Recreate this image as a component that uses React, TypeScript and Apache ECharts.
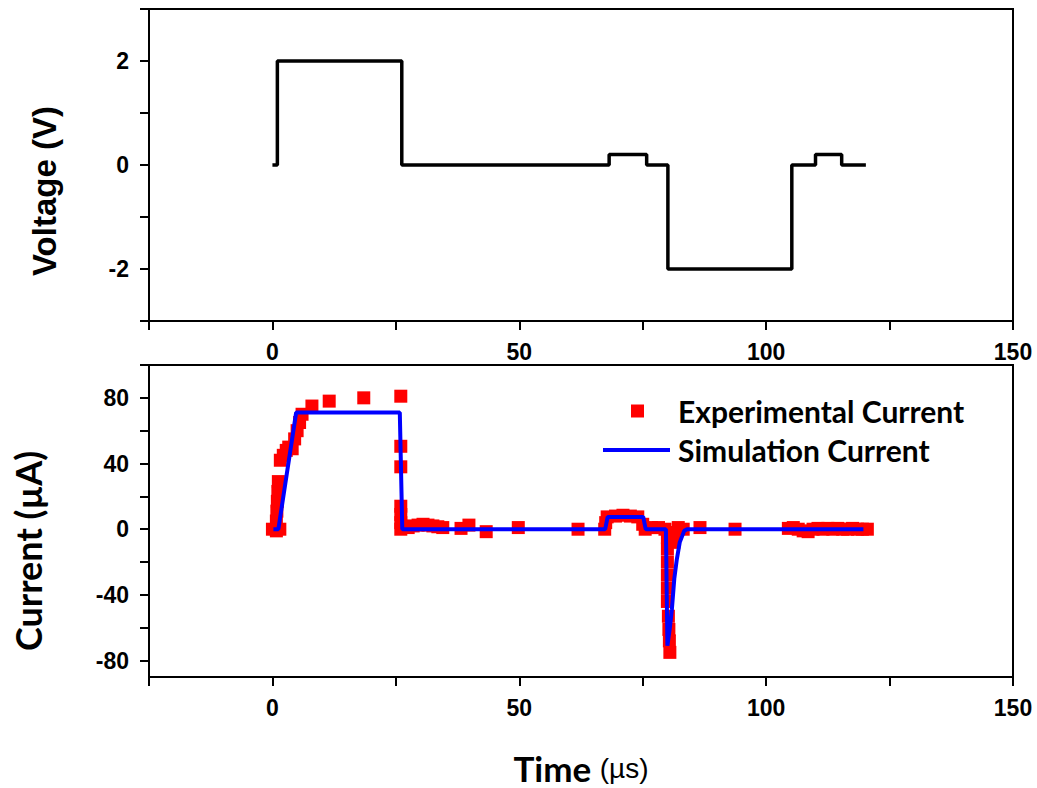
import React, { useEffect, useRef } from "react";
import * as echarts from "echarts";

// ---- Data ----
const voltTime = [0, 1, 1, 26.2, 26.2, 68.2, 68.2, 75.8, 75.8, 80.1, 80.1, 105.2, 105.2, 110, 110, 115.3, 115.3, 120.2];
const voltValue = [0, 0, 2, 2, 0, 0, 0.2, 0.2, 0, 0, -2, -2, 0, 0, 0.2, 0.2, 0, 0];

const expTime = [
  0, 0.8, 1.5,
  0.8, 0.9, 1.0, 1.1, 1.2,
  1.6, 2.2, 2.8, 3.3,
  4.0, 4.5, 5.0, 5.5, 6.0,
  8.0, 11.5, 18.5, 26.0,
  26.0, 26.0, 26.0, 26.0, 26.0, 26.0,
  27.5, 28.5, 29.5, 30.5, 31.5, 32.5, 33.5, 34.5,
  38.2, 39.8, 43.3, 49.8, 61.9,
  67.3, 67.5, 67.8, 69.5, 71.0, 72.5, 74.0, 75.0, 75.5, 76.8, 78.2, 79.5,
  80.0, 80.0, 80.0, 80.0, 80.0, 80.0, 80.2, 80.3, 80.4, 80.5, 81.3, 81.3, 82.2, 83.2,
  86.6, 93.7,
  104.5, 105.5, 106.5, 107.5, 108.5, 109.5, 110.5, 111.5, 112.5, 113.5, 114.5, 115.5, 116.5, 117.5, 118.5, 119.5, 120.5,
];
const expCurrent = [
  0, -1, 0,
  5, 11, 17, 23, 29,
  42, 45, 48, 50,
  49, 55, 60, 65, 70,
  75, 78, 80, 81,
  50.5, 38, 14, 9, 4, 0,
  1, 2, 2.5, 3, 2.5, 2, 1.5, 1,
  0.5, 2.5, -1.5, 1, 0,
  0, 4, 7.5, 8, 8.5, 8, 7.5, 3, 0, 1, 1, 0,
  -5, -12, -20, -28, -36, -44, -53, -61, -68, -75, -2, -8, 1, 0,
  1, 0,
  0.5, 1, 0, -1, -1.5, 0, 0.5, 0, 0.5, 0, 0.5, 0, 0, 0.5, 0, 0, 0,
];

const simTime = [0.2, 1.2, 4.8, 25.8, 26.3, 67.4, 67.9, 75.1, 75.6, 79.7, 80.0, 80.5, 80.9, 81.4, 81.9, 82.5, 83.4, 84.0, 119.7];
const simCurrent = [0, 0, 71, 71, 0, 0, 7.5, 7.5, 0, 0, -71, -60, -49, -30, -18.5, -8, -1, 0, 0];

const timeTicks = [-25, 0, 25, 50, 75, 100, 125, 150];
const timeLabels = [0, 50, 100, 150];
const currentTicks = [-80, -60, -40, -20, 0, 20, 40, 60, 80, 100];
const currentLabels = [-80, -40, 0, 40, 80];
const voltLabels = [-2, 0, 2];

const AX = "Liberation Sans";

function xAxis(gridIndex: number) {
  return {
    type: "value",
    gridIndex,
    min: -25,
    max: 150,
    interval: 25,
    axisLine: { show: true, onZero: false, lineStyle: { color: "#000", width: 2 } },
    axisTick: { show: true, inside: false, length: 9, customValues: timeTicks, lineStyle: { color: "#000", width: 2 } },
    axisLabel: {
      customValues: timeLabels,
      formatter: (v: number) => (v % 50 === 0 && v >= 0 ? String(v) : ""),
      color: "#000",
      fontFamily: AX,
      fontWeight: "bold",
      fontSize: 23,
      margin: 19,
    },
    splitLine: { show: false },
  };
}

export default function App() {
  const ref = useRef<HTMLDivElement>(null);
  useEffect(() => {
    if (!ref.current) return;
    const chart = echarts.init(ref.current, undefined, { renderer: "svg" });
    const option: any = {
      animation: false,
      backgroundColor: "#fff",
      grid: [
        { left: 149, right: 24, top: 9, height: 312, show: true, borderColor: "#000", borderWidth: 2, backgroundColor: "transparent" },
        { left: 149, right: 24, top: 365, height: 312, show: true, borderColor: "#000", borderWidth: 2, backgroundColor: "transparent" },
      ],
      xAxis: [xAxis(0), xAxis(1)],
      yAxis: [
        {
          type: "value",
          gridIndex: 0,
          min: -3,
          max: 3,
          interval: 1,
          axisLine: { show: true, onZero: false, lineStyle: { color: "#000", width: 2 } },
          axisTick: { show: true, inside: false, length: 9, lineStyle: { color: "#000", width: 2 } },
          axisLabel: {
            formatter: (v: number) => (voltLabels.indexOf(v) >= 0 ? String(v) : ""),
            color: "#000",
            fontFamily: AX,
            fontWeight: "bold",
            fontSize: 23,
            margin: 20,
          },
          splitLine: { show: false },
        },
        {
          type: "value",
          gridIndex: 1,
          min: -90,
          max: 100,
          axisLine: { show: true, onZero: false, lineStyle: { color: "#000", width: 2 } },
          axisTick: { show: true, inside: false, length: 9, customValues: currentTicks, lineStyle: { color: "#000", width: 2 } },
          axisLabel: {
            customValues: currentLabels,
            color: "#000",
            fontFamily: AX,
            fontWeight: "bold",
            fontSize: 23,
            margin: 20,
          },
          splitLine: { show: false },
        },
      ],
      legend: [
        {
          data: [{ name: "Experimental Current", icon: "rect" }],
          left: 631,
          top: 396,
          padding: 0,
          itemWidth: 13,
          itemHeight: 13,
          selectedMode: false,
          textStyle: { fontFamily: "Lato", fontWeight: "bold", fontSize: 30, color: "#000", padding: [0, 0, 8, 29] },
        },
        {
          data: [{ name: "Simulation Current", icon: "rect" }],
          left: 603,
          top: 435,
          padding: 0,
          itemWidth: 67,
          itemHeight: 4,
          selectedMode: false,
          textStyle: { fontFamily: "Lato", fontWeight: "bold", fontSize: 30, color: "#000", padding: [0, 0, 6, 3] },
        },
      ],
      graphic: [
        {
          type: "text",
          x: 44,
          y: 191,
          rotation: Math.PI / 2,
          style: { text: "Voltage (V)", font: `bold 33px "${AX}"`, fill: "#000", align: "center", verticalAlign: "middle" },
        },
        {
          type: "text",
          x: 28,
          y: 551,
          rotation: Math.PI / 2,
          style: { text: "Current (µA)", font: 'bold 36px "Lato"', fill: "#000", align: "center", verticalAlign: "middle" },
        },
        {
          type: "text",
          x: 581,
          y: 768,
          style: {
            text: "{a|Time }{b|(µs)}",
            align: "center",
            verticalAlign: "middle",
            rich: {
              a: { fontFamily: "Lato", fontWeight: "bold", fontSize: 35, color: "#000" },
              b: { fontFamily: AX, fontSize: 28, color: "#000" },
            },
          },
        },
      ],
      series: [
        {
          name: "Voltage",
          type: "line",
          xAxisIndex: 0,
          yAxisIndex: 0,
          data: voltTime.map((t, i) => [t, voltValue[i]]),
          symbol: "none",
          lineStyle: { color: "#000", width: 3.5 },
          itemStyle: { color: "#000" },
        },
        {
          name: "Experimental Current",
          type: "scatter",
          xAxisIndex: 1,
          yAxisIndex: 1,
          data: expTime.map((t, i) => [t, expCurrent[i]]),
          symbol: "rect",
          symbolSize: 13,
          itemStyle: { color: "#ff0000", opacity: 1 },
        },
        {
          name: "Simulation Current",
          type: "line",
          xAxisIndex: 1,
          yAxisIndex: 1,
          data: simTime.map((t, i) => [t, simCurrent[i]]),
          symbol: "none",
          lineStyle: { color: "#0000ff", width: 4 },
          itemStyle: { color: "#0000ff" },
        },
      ],
    };
    chart.setOption(option);
    return () => chart.dispose();
  }, []);
  return <div ref={ref} style={{ position: "absolute", left: 0, top: 0, width: 1037, height: 788 }} />;
}
